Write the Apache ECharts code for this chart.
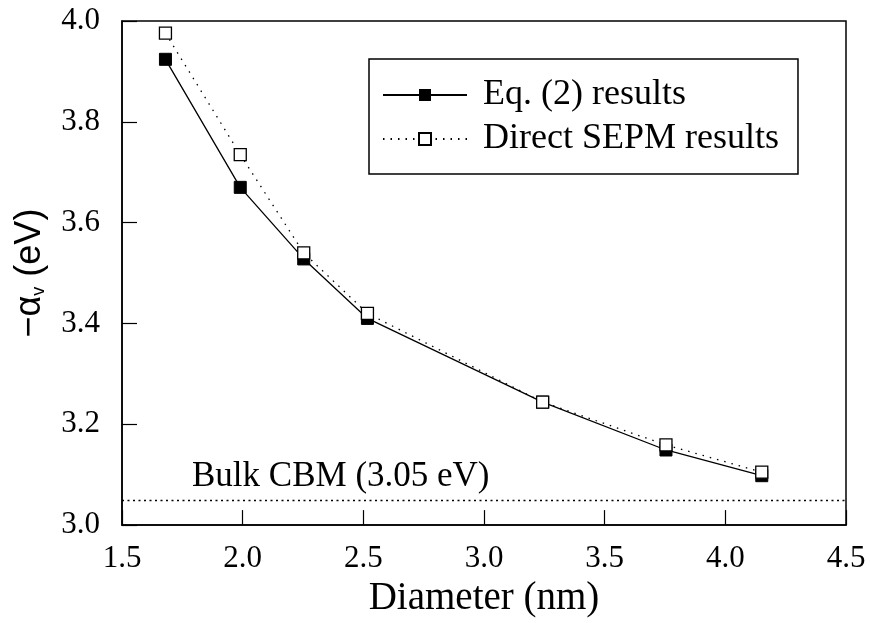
<!DOCTYPE html>
<html>
<head>
<meta charset="utf-8">
<script src="https://cdn.jsdelivr.net/npm/echarts@6/dist/echarts.min.js"></script>
<style>html,body{margin:0;padding:0;background:#fff}#c{width:870px;height:623px}</style>
</head>
<body>
<div id="c"></div>
<script>
const diameters = [1.68, 1.99, 2.253, 2.517, 3.243, 3.754, 4.151];
const eqResults = [3.924, 3.670, 3.528, 3.410, 3.244, 3.149, 3.098];
const sepmResults = [3.976, 3.735, 3.540, 3.420, 3.244, 3.159, 3.105];
const bulkCBM = 3.05;
const seriesNames = ['Eq. (2) results', 'Direct SEPM results'];
const xTitle = 'Diameter (nm)';
const bulkLabel = 'Bulk CBM (3.05 eV)';

const serif = 'Liberation Serif';
const chart = echarts.init(document.getElementById('c'));
const pairs = (xs, ys) => xs.map((x, i) => [x, ys[i]]);

chart.setOption({
  backgroundColor: '#fff',
  animation: false,
  grid: { left: 122, right: 24, top: 21, bottom: 96, show: true, borderColor: '#000', borderWidth: 1.5, backgroundColor: 'transparent' },
  xAxis: {
    type: 'value', min: 1.5, max: 4.5, interval: 0.5,
    name: xTitle, nameLocation: 'middle', nameGap: 52,
    nameTextStyle: { fontFamily: serif, fontSize: 39, color: '#000' },
    axisLine: { lineStyle: { color: '#000', width: 1.5 } },
    axisTick: { inside: true, length: 15, lineStyle: { color: '#000', width: 1.2 } },
    axisLabel: { fontFamily: serif, fontSize: 31, color: '#000', margin: 18, formatter: v => v.toFixed(1) },
    splitLine: { show: false }
  },
  yAxis: {
    type: 'value', min: 3.0, max: 4.0, interval: 0.2,
    name: '{a|−α}{s|v}{a| (eV)}', nameLocation: 'middle', nameGap: 74, nameRotate: 90,
    nameTextStyle: {
      rich: {
        a: { fontFamily: 'Liberation Sans', fontSize: 36, color: '#000' },
        s: { fontFamily: 'Liberation Sans', fontSize: 18, color: '#000', verticalAlign: 'bottom', padding: [16, 0, 0, 0] }
      }
    },
    axisLine: { lineStyle: { color: '#000', width: 1.5 } },
    axisTick: { inside: true, length: 15, lineStyle: { color: '#000', width: 1.2 } },
    axisLabel: { fontFamily: serif, fontSize: 31, color: '#000', margin: 22, formatter: v => v.toFixed(1) },
    splitLine: { show: false }
  },
  legend: {
    orient: 'vertical', left: 369, top: 59,
    padding: [18, 19, 17, 13],
    borderColor: '#000', borderWidth: 1.5,
    itemWidth: 84, itemHeight: 15, itemGap: 8,
    textStyle: { fontFamily: serif, fontSize: 36, lineHeight: 35, color: '#000', padding: [0, 0, 0, 11] },
    data: seriesNames
  },
  series: [
    {
      name: seriesNames[0], type: 'line', data: pairs(diameters, eqResults),
      symbol: 'rect', symbolSize: 12,
      itemStyle: { color: '#000', borderColor: '#000' },
      lineStyle: { color: '#000', width: 1.3 },
      z: 2,
      markLine: {
        silent: true, symbol: 'none',
        lineStyle: { color: '#000', type: [2, 3.5], width: 1.3 },
        label: { show: true, position: 'insideStartTop', formatter: bulkLabel, fontFamily: serif, fontSize: 35, color: '#000', distance: [70, 6] },
        data: [{ yAxis: bulkCBM }]
      }
    },
    {
      name: seriesNames[1], type: 'line', data: pairs(diameters, sepmResults),
      symbol: 'rect', symbolSize: 12,
      itemStyle: { color: '#fff', borderColor: '#000', borderWidth: 1.3 },
      lineStyle: { color: '#000', width: 1.3, type: [1.5, 6] },
      z: 3
    }
  ]
});
</script>
</body>
</html>
